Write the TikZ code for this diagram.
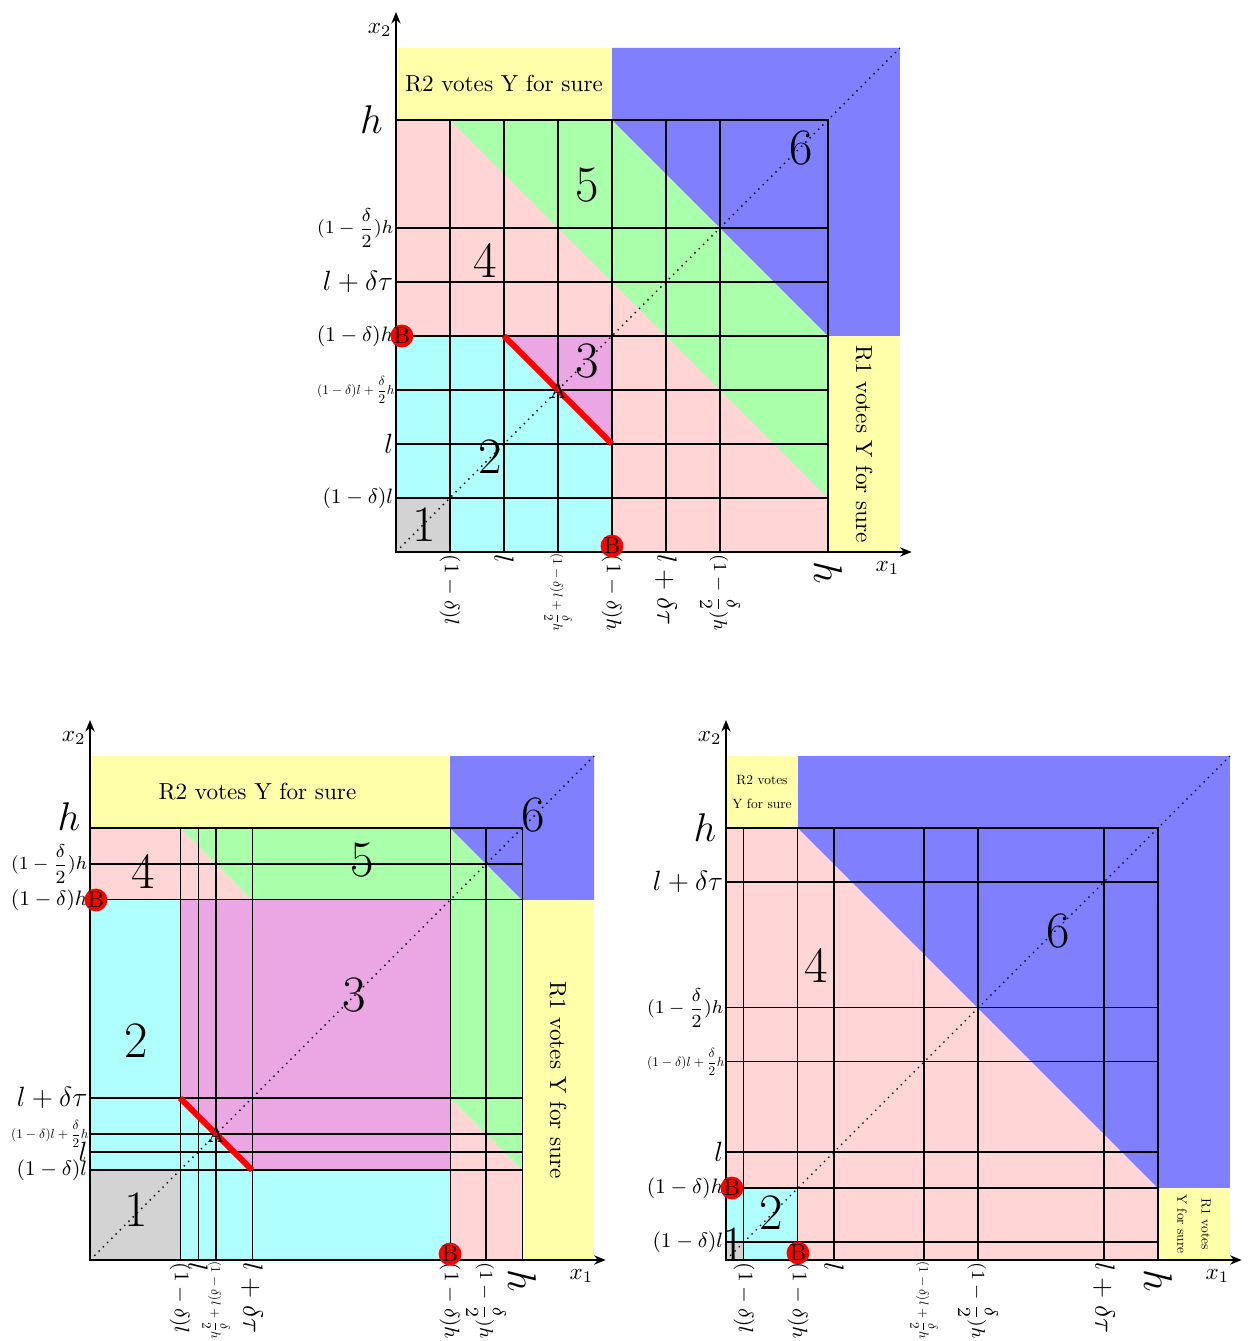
\documentclass[tikz,border=0pt]{standalone}
\usepackage{tikz}
\usepackage{amsmath}
\usetikzlibrary{arrows.meta, positioning}
\definecolor{regpink}{HTML}{FFD5D5}
\definecolor{regcyan}{HTML}{B0FFFF}
\definecolor{reggreen}{HTML}{AAFFAA}
\definecolor{regblue}{HTML}{8080FF}
\definecolor{regyellow}{HTML}{FFFFAA}
\definecolor{regpurple}{HTML}{EBA7E4}
\definecolor{reggray}{HTML}{D3D3D3}

\begin{document}
\begin{tikzpicture}[
    x=0.81818cm, y=0.81818cm,
    gridline/.style={black, line width=0.45pt},
    axis/.style={-{Stealth[length=5pt, width=4pt]}, line width=0.7pt},
    diag/.style={dotted, line width=0.6pt},
    cut/.style={red, line width=2.5pt},
    regnum/.style={font=\fontsize{22}{24}\selectfont},
    ylab/.style={anchor=east, inner sep=1pt},
    xlab/.style={rotate=-90, anchor=west, inner sep=1pt},
    biglab/.style={font=\LARGE, inner sep=4pt},
    tinylab/.style={font=\normalsize, scale=0.57},
    bpoint/.style={circle, fill=red, inner sep=0pt, font=\normalsize},
    votes/.style={font=\normalsize},
    smallvotes/.style={font=\fontsize{10}{18}\selectfont, align=center, scale=0.58}
]
\useasboundingbox (0,0) rectangle (23.111,24.833);

% ---- top panel, delta = 1/2
\begin{scope}[shift={(7.333,14.611)}]
\fill[regpink] (0,0) rectangle (8,8);
\fill[reggreen] (1,8) -- (4,8) -- (8,4) -- (8,1) -- cycle;
\fill[regblue] (4,8) -- (4,9.333) -- (9.333,9.333) -- (9.333,4) -- (8,4) -- cycle;
\fill[regyellow] (0,8) rectangle (4,9.333);
\fill[regyellow] (8,0) rectangle (9.333,4);
\fill[regcyan] (0,0) rectangle (4,4);
\fill[reggray] (0,0) rectangle (1,1);
\fill[regpurple] (2,4) -- (4,4) -- (4,2) -- cycle;
\draw[gridline] (0,0) rectangle (8,8)
    (1,0) -- (1,8) (2,0) -- (2,8) (3,0) -- (3,8) (4,0) -- (4,8) (5,0) -- (5,8) (6,0) -- (6,8)
    (0,1) -- (8,1) (0,2) -- (8,2) (0,3) -- (8,3) (0,4) -- (8,4) (0,5) -- (8,5) (0,6) -- (8,6);
\draw[diag] (0,0) -- (9.333,9.333);
\draw[cut] (2,4) -- (4,2);
\draw[axis] (0,0) -- (9.55,0);
\draw[axis] (0,0) -- (0,10);
\node (t-x1) at (9.1,-0.3) {$x_1$};
\node (t-x2) at (-0.3,9.67) {$x_2$};
\node[ylab, biglab, inner sep=5.5pt] (t-yh) at (0,8) {$h$};
\node[ylab, font=\footnotesize] (t-yc) at (0,6) {$(1-\dfrac{\delta}{2})h$};
\node[ylab, font=\large] (t-yt) at (0,5) {$l+\delta\tau$};
\node[ylab, font=\small] (t-yb) at (0,4) {$(1-\delta)h$};
\node[ylab, tinylab] (t-ym) at (0,3) {$(1-\delta)l+\dfrac{\delta}{2}h$};
\node[ylab, font=\large] (t-yl) at (0,2) {$l$};
\node[ylab, font=\small] (t-ya) at (0,1) {$(1-\delta)l$};
\node[xlab, font=\small] (t-xa) at (1,0) {$(1-\delta)l$};
\node[xlab, font=\large] (t-xl) at (2,0) {$l$};
\node[xlab, tinylab] (t-xm) at (3,0) {$(1-\delta)l+\dfrac{\delta}{2}h$};
\node[xlab, font=\small] (t-xb) at (4,0) {$(1-\delta)h$};
\node[xlab, font=\large] (t-xt) at (5,0) {$l+\delta\tau$};
\node[xlab, font=\footnotesize] (t-xc) at (6,0) {$(1-\dfrac{\delta}{2})h$};
\node[xlab, biglab] (t-xh) at (8,0) {$h$};
\node[votes] (t-r2) at (2,8.667) {R2 votes Y for sure};
\node[votes, rotate=-90] (t-r1) at (8.667,2) {R1 votes Y for sure};
\node[bpoint] (t-b1) at (0.11,4) {B};
\node[bpoint] (t-b2) at (4,0.11) {B};
\node (t-a) at (3,3) {A};
\node[regnum] (t-n1) at (0.52,0.5) {1};
\node[regnum] (t-n2) at (1.74,1.76) {2};
\node[regnum] (t-n3) at (3.55,3.54) {3};
\node[regnum] (t-n4) at (1.65,5.4) {4};
\node[regnum] (t-n5) at (3.55,6.8) {5};
\node[regnum] (t-n6) at (7.5,7.48) {6};
\end{scope}

% ---- bottom left panel, delta = 1/6
\begin{scope}[shift={(1.667,1.5)}]
\fill[regpink] (0,0) rectangle (8,8);
\fill[reggreen] (1.667,8) -- (6.667,8) -- (8,6.667) -- (8,1.667) -- cycle;
\fill[regblue] (6.667,8) -- (6.667,9.333) -- (9.333,9.333) -- (9.333,6.667) -- (8,6.667) -- cycle;
\fill[regyellow] (0,8) rectangle (6.667,9.333);
\fill[regyellow] (8,0) rectangle (9.333,6.667);
\fill[regcyan] (0,0) rectangle (6.667,6.667);
\fill[reggray] (0,0) rectangle (1.667,1.667);
\fill[regpurple] (1.667,3) -- (1.667,6.667) -- (6.667,6.667) -- (6.667,1.667) -- (3,1.667) -- cycle;
\draw[gridline] (0,0) rectangle (8,8)
    (1.667,0) -- (1.667,8) (2,0) -- (2,8) (2.333,0) -- (2.333,8) (3,0) -- (3,8) (6.667,0) -- (6.667,8) (7.333,0) -- (7.333,8)
    (0,1.667) -- (8,1.667) (0,2) -- (8,2) (0,2.333) -- (8,2.333) (0,3) -- (8,3) (0,6.667) -- (8,6.667) (0,7.333) -- (8,7.333);
\draw[diag] (0,0) -- (9.333,9.333);
\draw[cut] (1.667,3) -- (3,1.667);
\draw[axis] (0,0) -- (9.55,0);
\draw[axis] (0,0) -- (0,10);
\node (bl-x1) at (9.1,-0.3) {$x_1$};
\node (bl-x2) at (-0.3,9.67) {$x_2$};
\node[ylab, biglab, yshift=5pt] (bl-yh) at (0,8) {$h$};
\node[ylab, font=\footnotesize] (bl-yc) at (0,7.333) {$(1-\dfrac{\delta}{2})h$};
\node[ylab, font=\small] (bl-yb) at (0,6.667) {$(1-\delta)h$};
\node[ylab, font=\large] (bl-yt) at (0,3) {$l+\delta\tau$};
\node[ylab, tinylab] (bl-ym) at (0,2.333) {$(1-\delta)l+\dfrac{\delta}{2}h$};
\node[ylab, font=\large] (bl-yl) at (0,2) {$l$};
\node[ylab, font=\small] (bl-ya) at (0,1.667) {$(1-\delta)l$};
\node[xlab, font=\small] (bl-xa) at (1.667,0) {$(1-\delta)l$};
\node[xlab, font=\large] (bl-xl) at (2,0) {$l$};
\node[xlab, tinylab] (bl-xm) at (2.333,0) {$(1-\delta)l+\dfrac{\delta}{2}h$};
\node[xlab, font=\large] (bl-xt) at (3,0) {$l+\delta\tau$};
\node[xlab, font=\small] (bl-xb) at (6.667,0) {$(1-\delta)h$};
\node[xlab, font=\footnotesize] (bl-xc) at (7.333,0) {$(1-\dfrac{\delta}{2})h$};
\node[xlab, biglab] (bl-xh) at (8,0) {$h$};
\node[votes] (bl-r2) at (3.1,8.667) {R2 votes Y for sure};
\node[votes, rotate=-90] (bl-r1) at (8.667,3.333) {R1 votes Y for sure};
\node[bpoint] (bl-b1) at (0.11,6.667) {B};
\node[bpoint] (bl-b2) at (6.667,0.11) {B};
\node (bl-a) at (2.333,2.333) {A};
\node[regnum] (bl-n1) at (0.85,0.93) {1};
\node[regnum] (bl-n2) at (0.85,4.07) {2};
\node[regnum] (bl-n3) at (4.89,4.9) {3};
\node[regnum] (bl-n4) at (0.98,7.2) {4};
\node[regnum] (bl-n5) at (5.04,7.4) {5};
\node[regnum] (bl-n6) at (8.2,8.24) {6};
\end{scope}

% ---- bottom right panel, delta = 5/6
\begin{scope}[shift={(13.444,1.5)}]
\fill[regpink] (0,0) rectangle (8,8);
\fill[regblue] (1.333,8) -- (1.333,9.333) -- (9.333,9.333) -- (9.333,1.333) -- (8,1.333) -- cycle;
\fill[regyellow] (0,8) rectangle (1.333,9.333);
\fill[regyellow] (8,0) rectangle (9.333,1.333);
\fill[regcyan] (0,0) rectangle (1.333,1.333);
\fill[reggray] (0,0) rectangle (0.333,0.333);
\draw[gridline] (0,0) rectangle (8,8)
    (0.333,0) -- (0.333,8) (1.333,0) -- (1.333,8) (2,0) -- (2,8) (3.667,0) -- (3.667,8) (4.667,0) -- (4.667,8) (7,0) -- (7,8)
    (0,0.333) -- (8,0.333) (0,1.333) -- (8,1.333) (0,2) -- (8,2) (0,3.667) -- (8,3.667) (0,4.667) -- (8,4.667) (0,7) -- (8,7);
\draw[diag] (0,0) -- (9.333,9.333);
\draw[axis] (0,0) -- (9.55,0);
\draw[axis] (0,0) -- (0,10);
\node (br-x1) at (9.1,-0.3) {$x_1$};
\node (br-x2) at (-0.3,9.67) {$x_2$};
\node[ylab, biglab] (br-yh) at (0,8) {$h$};
\node[ylab, font=\large] (br-yt) at (0,7) {$l+\delta\tau$};
\node[ylab, font=\footnotesize] (br-yc) at (0,4.667) {$(1-\dfrac{\delta}{2})h$};
\node[ylab, tinylab] (br-ym) at (0,3.667) {$(1-\delta)l+\dfrac{\delta}{2}h$};
\node[ylab, font=\large] (br-yl) at (0,2) {$l$};
\node[ylab, font=\small] (br-yb) at (0,1.333) {$(1-\delta)h$};
\node[ylab, font=\small] (br-ya) at (0,0.333) {$(1-\delta)l$};
\node[xlab, font=\small] (br-xa) at (0.333,0) {$(1-\delta)l$};
\node[xlab, font=\small] (br-xb) at (1.333,0) {$(1-\delta)h$};
\node[xlab, font=\large] (br-xl) at (2,0) {$l$};
\node[xlab, tinylab] (br-xm) at (3.667,0) {$(1-\delta)l+\dfrac{\delta}{2}h$};
\node[xlab, font=\footnotesize] (br-xc) at (4.667,0) {$(1-\dfrac{\delta}{2})h$};
\node[xlab, font=\large] (br-xt) at (7,0) {$l+\delta\tau$};
\node[xlab, biglab] (br-xh) at (8,0) {$h$};
\node[smallvotes] (br-r2) at (0.667,8.667) {R2 votes\\Y for sure};
\node[smallvotes, rotate=-90] (br-r1) at (8.667,0.667) {R1 votes\\Y for sure};
\node[bpoint] (br-b1) at (0.11,1.333) {B};
\node[bpoint] (br-b2) at (1.333,0.13) {B};
\node[regnum] (br-n1) at (0.13,0.28) {1};
\node[regnum] (br-n2) at (0.83,0.87) {2};
\node[regnum] (br-n4) at (1.67,5.46) {4};
\node[regnum] (br-n6) at (6.15,6.1) {6};
\end{scope}
\end{tikzpicture}
\end{document}
